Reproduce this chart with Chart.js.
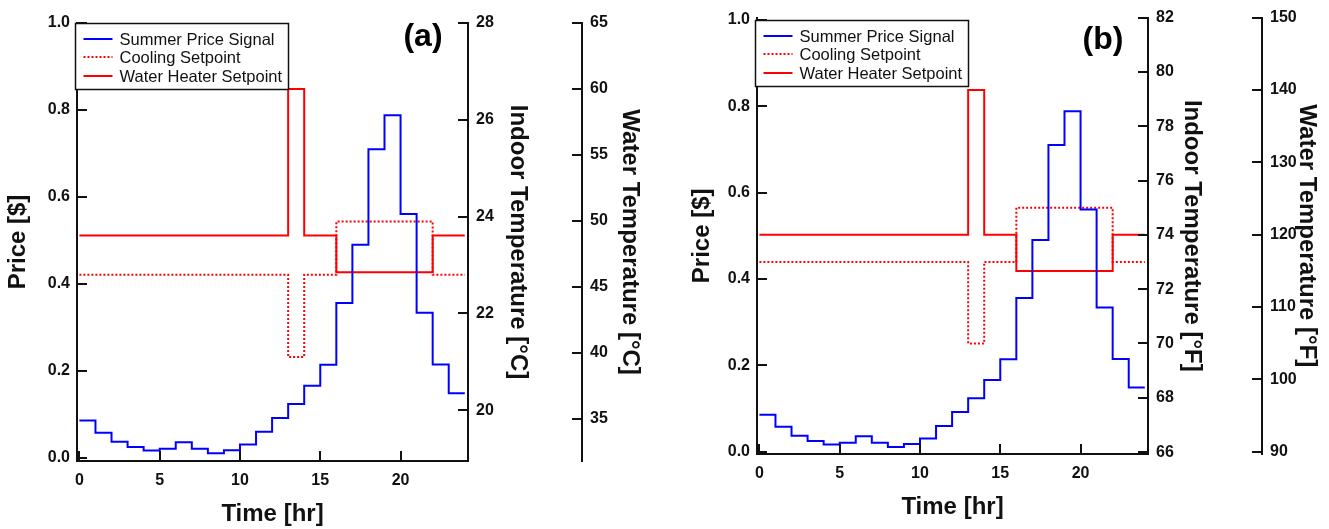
<!DOCTYPE html>
<html><head><meta charset="utf-8">
<script src="https://cdn.jsdelivr.net/npm/chart.js@4.4.0/dist/chart.umd.min.js"></script>
<style>
html,body{margin:0;padding:0;background:#fff;width:1329px;height:529px;overflow:hidden}
#wrapA{position:absolute;left:0;top:0;width:665px;height:529px}
#wrapB{position:absolute;left:665px;top:0;width:664px;height:529px}
canvas{display:block}
</style></head><body>
<div id="wrapA"><canvas id="cA" width="665" height="529"></canvas></div>
<div id="wrapB"><canvas id="cB" width="664" height="529"></canvas></div>
<script>
// ---------- data ----------
const HOURS = [0,1,2,3,4,5,6,7,8,9,10,11,12,13,14,15,16,17,18,19,20,21,22,23];
const PRICE = [0.086,0.058,0.037,0.025,0.017,0.021,0.036,0.021,0.011,0.018,0.031,0.060,
               0.092,0.124,0.166,0.214,0.356,0.490,0.710,0.788,0.561,0.334,0.215,0.149];
const COOL_C = [22.8,22.8,22.8,22.8,22.8,22.8,22.8,22.8,22.8,22.8,22.8,22.8,22.8,21.1,22.8,22.8,
                23.9,23.9,23.9,23.9,23.9,23.9,22.8,22.8];
const WATER_C = [48.9,48.9,48.9,48.9,48.9,48.9,48.9,48.9,48.9,48.9,48.9,48.9,48.9,60.0,48.9,48.9,
                 46.1,46.1,46.1,46.1,46.1,46.1,48.9,48.9];
const COOL_F = [73,73,73,73,73,73,73,73,73,73,73,73,73,70,73,73,75,75,75,75,75,75,73,73];
const WATER_F = [120,120,120,120,120,120,120,120,120,120,120,120,120,140,120,120,115,115,115,115,115,115,120,120];
const HOUR_TICKS = [0,5,10,15,20];
const PRICE_TICKS = [0.0,0.2,0.4,0.6,0.8,1.0];
const INDOOR_C_TICKS = [20,22,24,26,28];
const WATER_C_TICKS = [35,40,45,50,55,60,65];
const INDOOR_F_TICKS = [66,68,70,72,74,76,78,80,82];
const WATER_F_TICKS = [90,100,110,120,130,140,150];
const SERIES_LABELS = ['Summer Price Signal','Cooling Setpoint','Water Heater Setpoint'];

// ---------- style ----------
const FONT = "'Liberation Sans', Arial, Helvetica, sans-serif";
const AXIS = '#111111';
const TXT = '#111111';
const BLUE = 'rgb(0,0,255)';
const RED = 'rgb(255,0,0)';
Chart.defaults.font.family = FONT;

function toSteps(values){
  const pts = values.map((v,i)=>({x:HOURS[i], y:v}));
  pts.push({x:HOURS[HOURS.length-1]+1, y:values[values.length-1]});
  return pts;
}

const decor = {
  id:'decor',
  afterDraw(chart, args, opts){
    const ctx = chart.ctx;
    const ca = chart.chartArea;
    ctx.save();
    // inward tick marks
    ctx.strokeStyle = AXIS; ctx.lineWidth = 2;
    const L = 10;
    for (const id of Object.keys(chart.scales)) {
      const s = chart.scales[id];
      s.ticks.forEach(t => {
        const p = Math.round(s.getPixelForValue(t.value));
        ctx.beginPath();
        if (s.isHorizontal()) { ctx.moveTo(p, Math.round(s.top)); ctx.lineTo(p, Math.round(s.top) - L); }
        else if (s.position === 'left') { ctx.moveTo(Math.round(s.right), p); ctx.lineTo(Math.round(s.right) + L, p); }
        else { ctx.moveTo(Math.round(s.left), p); ctx.lineTo(Math.round(s.left) - L, p); }
        ctx.stroke();
      });
    }
    // legend box
    const lg = opts.legend;
    ctx.font = lg.fontSize + 'px ' + FONT;
    const ds = chart.data.datasets;
    let maxW = 0;
    ds.forEach(d => { maxW = Math.max(maxW, ctx.measureText(d.label).width); });
    const bx = Math.round(ca.left + lg.dx) + 0.5, by = Math.round(ca.top + lg.dy) + 0.5;
    const bw = Math.round(lg.padL + lg.sample + lg.gap + maxW + lg.padR);
    const bh = lg.height;
    ctx.fillStyle = '#fff';
    ctx.fillRect(bx, by, bw, bh);
    ctx.strokeStyle = AXIS; ctx.lineWidth = 1.5;
    ctx.strokeRect(bx, by, bw, bh);
    ds.forEach((d, i) => {
      const yy = Math.round(by + lg.firstRow + i * lg.rowH);
      ctx.beginPath();
      ctx.strokeStyle = d.borderColor; ctx.lineWidth = d.borderWidth;
      ctx.setLineDash(d.borderDash || []);
      ctx.moveTo(bx + lg.padL, yy); ctx.lineTo(bx + lg.padL + lg.sample, yy);
      ctx.stroke();
      ctx.setLineDash([]);
      ctx.fillStyle = TXT; ctx.textAlign = 'left'; ctx.textBaseline = 'middle';
      ctx.fillText(d.label, bx + lg.padL + lg.sample + lg.gap, yy + 1);
    });
    // panel label
    const pl = opts.panel;
    ctx.font = 'bold ' + pl.fontSize + 'px ' + FONT;
    ctx.fillStyle = '#000'; ctx.textAlign = 'center'; ctx.textBaseline = 'middle';
    ctx.fillText(pl.text, ca.right + pl.dx, ca.top + pl.dy);
    ctx.restore();
  }
};

function yScale(pos, min, max, ticksArr, fmt, title, titlePad, width, labelPad) {
  return {
    type:'linear', position: pos, min: min, max: max,
    afterBuildTicks: s => { s.ticks = ticksArr.map(v => ({value: v})); },
    afterFit: s => { s.width = width; },
    grid: {display:false, drawTicks:false},
    border: {display:true, color: AXIS, width: 2},
    ticks: {padding: labelPad, color: TXT, autoSkip:false, font: {size:16, weight:'bold'}, callback: fmt},
    title: {display:true, text: title, color: TXT, font: {size:24, weight:'bold'}, padding: {top: titlePad, bottom: 0}}
  };
}
function xScale(height, titlePadBottom) {
  return {
    type:'linear', position:'bottom', min:-0.15, max:24.2,
    afterBuildTicks: s => { s.ticks = HOUR_TICKS.map(v => ({value: v})); },
    afterFit: s => { s.height = height; },
    grid: {display:false, drawTicks:false},
    border: {display:true, color: AXIS, width: 2},
    ticks: {padding: 10, color: TXT, autoSkip:false, maxRotation:0, font: {size:16, weight:'bold'}, callback: v => String(v)},
    title: {display:true, text:'Time [hr]', color: TXT, font: {size:24, weight:'bold'}, padding: {top:0, bottom: titlePadBottom}}
  };
}
function datasets(cool, water) {
  return [
    {label: SERIES_LABELS[0], data: toSteps(PRICE), yAxisID:'y', borderColor: BLUE, borderWidth: 2, stepped:'before', pointRadius:0, fill:false},
    {label: SERIES_LABELS[1], data: toSteps(cool), yAxisID:'yIn', borderColor: RED, borderWidth: 2, borderDash:[2,2], stepped:'before', pointRadius:0, fill:false},
    {label: SERIES_LABELS[2], data: toSteps(water), yAxisID:'yW', borderColor: RED, borderWidth: 2, stepped:'before', pointRadius:0, fill:false}
  ];
}
const fmtPrice = v => Number(v).toFixed(1);
const fmtInt = v => String(v);
const legendOpts = {fontSize:16.5, dx:-2, dy:0, padL:8, sample:29, gap:7, padR:6, rowH:18.5, firstRow:15, height:66};

new Chart(document.getElementById('cA'), {
  type:'line',
  data: {datasets: datasets(COOL_C, WATER_C)},
  options: {
    responsive:false, animation:false, devicePixelRatio:1,
    layout: {padding: {top:23, left:0, right:0, bottom:0}},
    plugins: {legend:{display:false}, tooltip:{enabled:false},
      decor: {legend: legendOpts, panel: {text:'(a)', fontSize:32, dx:-45, dy:14}}},
    scales: {
      x: xScale(68, 0),
      y: yScale('left', -0.007, 1.0, PRICE_TICKS, fmtPrice, 'Price [$]', 4, 77, 7),
      yIn: yScale('right', 18.95, 28, INDOOR_C_TICKS, fmtInt, 'Indoor Temperature [°C]', 50, 114, 8),
      yW: yScale('right', 31.8, 65, WATER_C_TICKS, fmtInt, 'Water Temperature [°C]', 21, 83, 8)
    }
  },
  plugins: [decor]
});

new Chart(document.getElementById('cB'), {
  type:'line',
  data: {datasets: datasets(COOL_F, WATER_F)},
  options: {
    responsive:false, animation:false, devicePixelRatio:1,
    layout: {padding: {top:15, left:0, right:0, bottom:0}},
    plugins: {legend:{display:false}, tooltip:{enabled:false},
      decor: {legend: Object.assign({}, legendOpts, {dy:2}), panel: {text:'(b)', fontSize:32, dx:-45, dy:23}}},
    scales: {
      x: xScale(75, 7),
      y: yScale('left', -0.005, 1.005, PRICE_TICKS, fmtPrice, 'Price [$]', 23, 92, 7),
      yIn: yScale('right', 65.93, 82, INDOOR_F_TICKS, fmtInt, 'Indoor Temperature [°F]', 56, 114, 8),
      yW: yScale('right', 89.7, 150, WATER_F_TICKS, fmtInt, 'Water Temperature [°F]', 8, 67, 8)
    }
  },
  plugins: [decor]
});
</script>
</body></html>
